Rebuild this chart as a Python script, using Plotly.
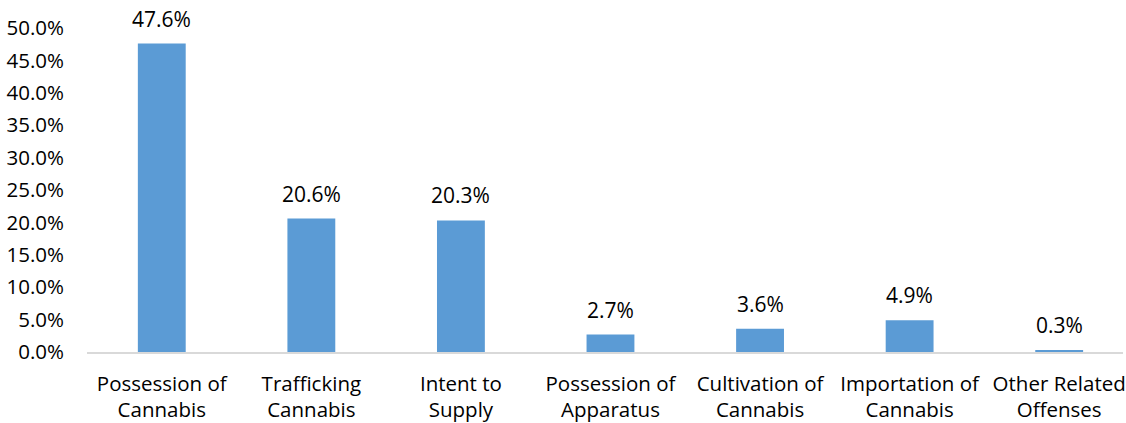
import plotly.graph_objects as go

categories = [
    "Possession of<br>Cannabis",
    "Trafficking<br>Cannabis",
    "Intent to<br>Supply",
    "Possession of<br>Apparatus",
    "Cultivation of<br>Cannabis",
    "Importation of<br>Cannabis",
    "Other Related<br>Offenses",
]
shares = [47.6, 20.6, 20.3, 2.7, 3.6, 4.9, 0.3]
tick_values = [0, 5, 10, 15, 20, 25, 30, 35, 40, 45, 50]
tick_labels = [f"{v:.1f}%" for v in tick_values]

FONT = "Open Sans"
BAR_COLOR = "#5B9BD5"
TEXT_SIZE = 20.5

fig = go.Figure(
    go.Bar(
        x=list(range(len(categories))),
        y=shares,
        width=0.32,
        marker=dict(color=BAR_COLOR, line=dict(width=0)),
        hoverinfo="skip",
    )
)

for i, v in enumerate(shares):
    fig.add_annotation(
        x=i, y=v, text=f"{v:.1f}%", showarrow=False,
        yanchor="bottom", yshift=9,
        font=dict(family=FONT, size=21, color="#000000"),
    )

fig.update_layout(
    width=1126, height=423,
    margin=dict(l=87, r=0, t=28, b=70),
    paper_bgcolor="white", plot_bgcolor="white",
    showlegend=False,
    font=dict(family=FONT, size=TEXT_SIZE, color="#000000"),
)
fig.update_xaxes(
    tickmode="array",
    tickvals=list(range(len(categories))),
    ticktext=categories,
    range=[-0.5, 6.5 - 11 / 150],
    showline=True, linecolor="#D9D9D9", linewidth=2,
    showgrid=False, zeroline=False, ticks="",
    ticklabelstandoff=12,
    ticklabeloverflow="allow",
    tickfont=dict(family=FONT, size=TEXT_SIZE, color="#000000"),
)
fig.update_yaxes(
    range=[0, 50],
    tickmode="array", tickvals=tick_values, ticktext=tick_labels,
    showline=False, showgrid=False, zeroline=False, ticks="",
    ticklabelstandoff=22,
    tickfont=dict(family=FONT, size=TEXT_SIZE, color="#000000"),
)

fig.write_html("out.html")
